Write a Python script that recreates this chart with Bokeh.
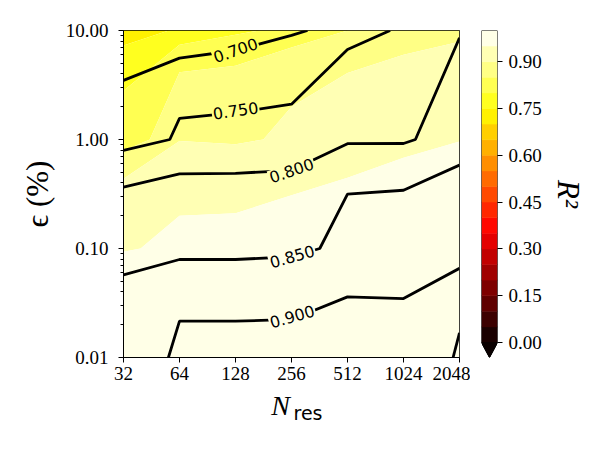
import numpy as np
from bokeh.plotting import figure
from bokeh.layouts import row, column
from bokeh.models import Range1d, FixedTicker, NumeralTickFormatter
from bokeh.core.properties import value
from bokeh.embed import file_html
from bokeh.resources import INLINE

# ---------------- data ----------------
n_res = [32, 64, 128, 256, 512, 1024, 2048]
eps_pct = [0.01, 0.1, 1.0, 10.0]

# filled field (R^2), one list per eps row
fill_eps_0_01 = [0.975, 0.978, 0.980, 0.982, 0.984, 0.986, 0.988]
fill_eps_0_1 = [0.948, 0.9565, 0.958, 0.962, 0.965, 0.968, 0.970]
fill_eps_1 = [0.820, 0.898, 0.893, 0.910, 0.926, 0.940, 0.949]
fill_eps_10 = [0.720, 0.760, 0.790, 0.820, 0.850, 0.868, 0.885]

# contour-line field, one list per eps row
line_eps_0_01 = [0.871, 0.910, 0.910, 0.910, 0.913, 0.911, 0.957]
line_eps_0_1 = [0.831, 0.832, 0.832, 0.837, 0.868, 0.871, 0.865]
line_eps_1 = [0.726, 0.757, 0.758, 0.758, 0.793, 0.793, 0.837]
line_eps_10 = [0.632, 0.645, 0.664, 0.693, 0.725, 0.761, 0.793]

fill_levels = [0.00, 0.05, 0.10, 0.15, 0.20, 0.25, 0.30, 0.35, 0.40, 0.45, 0.50,
               0.55, 0.60, 0.65, 0.70, 0.75, 0.80, 0.85, 0.90, 0.95, 1.00]
line_levels = [0.70, 0.75, 0.80, 0.85, 0.90, 0.95]
labelled_levels = [0.70, 0.75, 0.80, 0.85, 0.90]

cbar_ticks = [0.00, 0.15, 0.30, 0.45, 0.60, 0.75, 0.90]
x_ticks = [32, 64, 128, 256, 512, 1024, 2048]
y_ticks = [0.01, 0.1, 1.0, 10.0]

# ---------------- styling helpers ----------------
def hot(v):
    idx = min(int(v * 256), 255)
    v = idx / 255.0
    r = min(1.0, 0.0416 + v / 0.365079 * 0.9584)
    g = min(1.0, max(0.0, (v - 0.365079) / (0.746032 - 0.365079)))
    b = min(1.0, max(0.0, (v - 0.746032) / (1 - 0.746032)))
    return "#%02x%02x%02x" % (round(r * 255), round(g * 255), round(b * 255))

palette = [hot(0.5 * (a + b)) for a, b in zip(fill_levels[:-1], fill_levels[1:])]
under_color = hot(0.0)

TICK_FONT = "Liberation Serif"
TICK_SIZE = "19px"

F = np.array([fill_eps_0_01, fill_eps_0_1, fill_eps_1, fill_eps_10])
L = np.array([line_eps_0_01, line_eps_0_1, line_eps_1, line_eps_10])

TOP_H = 388

# ---------------- main figure ----------------
p = figure(width=470, height=TOP_H, x_axis_type="log", y_axis_type="log",
           x_range=Range1d(n_res[0], n_res[-1]), y_range=Range1d(eps_pct[0], eps_pct[-1]),
           min_border_left=123, min_border_right=11, min_border_top=30, min_border_bottom=31,
           output_backend="svg", toolbar_location=None)
p.grid.visible = False
p.outline_line_color = "black"
p.outline_line_width = 1
p.background_fill_color = "white"
p.border_fill_color = "white"

p.contour(n_res, eps_pct, F, levels=fill_levels, fill_color=palette)
p.contour(n_res, eps_pct, L, levels=line_levels, line_color="black", line_width=2.8)

# contour labels (inline, masking the line beneath)
lab_n = [128, 128, 256, 258, 258]
lab_eps = [6.6, 1.845, 0.52, 0.0845, 0.0238]
lab_angle = [19, 8, 19, 16, 16]
lab_band = [16, 17, 18, 19, 19]
lab_bg = [palette[i] for i in lab_band]
p.text(x=lab_n, y=lab_eps, text=["%.3f" % v for v in labelled_levels], angle=lab_angle,
       angle_units="deg", text_align="center", text_baseline="middle",
       text_font=value("DejaVu Sans"), text_font_size=value("16px"), text_color="black",
       background_fill_color=lab_bg, background_fill_alpha=1.0, padding=1)

for ax in (p.xaxis[0], p.yaxis[0]):
    ax.axis_line_color = "black"
    ax.major_tick_line_color = "black"
    ax.minor_tick_line_color = "black"
    ax.major_tick_out = 5
    ax.major_tick_in = 0
    ax.minor_tick_out = 3
    ax.minor_tick_in = 0
    ax.major_label_text_font = TICK_FONT
    ax.major_label_text_font_size = TICK_SIZE
    ax.major_label_text_color = "black"

p.xaxis.ticker = FixedTicker(ticks=x_ticks, minor_ticks=[])
p.xaxis.formatter = NumeralTickFormatter(format="0")
p.xaxis.major_label_standoff = 4

minor_y = [m * t for t in y_ticks[:-1] for m in range(2, 10)]
p.yaxis.ticker = FixedTicker(ticks=y_ticks, minor_ticks=minor_y)
p.yaxis.formatter = NumeralTickFormatter(format="0.00")
p.yaxis.major_label_standoff = 10
p.yaxis.axis_label = "\u03f5 (%)"
p.yaxis.axis_label_text_font = TICK_FONT
p.yaxis.axis_label_text_font_style = "normal"
p.yaxis.axis_label_text_font_size = "31px"
p.yaxis.axis_label_text_color = "black"
p.yaxis.axis_label_standoff = 8

# ---------------- colorbar figure ----------------
arrow = 0.048
cb = figure(width=130, height=TOP_H, x_range=Range1d(0, 1),
            y_range=Range1d(fill_levels[0] - arrow, fill_levels[-1]),
            min_border_left=11, min_border_right=103, min_border_top=29, min_border_bottom=31,
            y_axis_location="right", x_axis_location=None,
            output_backend="svg", toolbar_location=None)
cb.grid.visible = False
cb.outline_line_color = None
cb.border_fill_color = "white"
cb.quad(left=0, right=1, bottom=fill_levels[:-1], top=fill_levels[1:], fill_color=palette,
        line_color=palette, line_width=0.5)
lo, hi = fill_levels[0], fill_levels[-1]
cb.patch([0, 1, 0.5], [lo, lo, lo - arrow], fill_color=under_color, line_color=under_color)
cb.line([0, 0, 1, 1, 0.5, 0], [lo, hi, hi, lo, lo - arrow, lo], line_color="black", line_width=1)

ax = cb.yaxis[0]
ax.ticker = FixedTicker(ticks=cbar_ticks, minor_ticks=[])
ax.formatter = NumeralTickFormatter(format="0.00")
ax.axis_line_color = None
ax.major_tick_line_color = "black"
ax.major_tick_out = 5
ax.major_tick_in = 0
ax.major_label_text_font = TICK_FONT
ax.major_label_text_font_size = TICK_SIZE
ax.major_label_text_color = "black"
ax.major_label_standoff = 6
ax.axis_label = "R\u00b2"
ax.axis_label_text_font = TICK_FONT
ax.axis_label_text_font_style = "italic"
ax.axis_label_text_font_size = "31px"
ax.axis_label_text_color = "black"
ax.axis_label_standoff = 6

# ---------------- x-axis title strip (page pixel coordinates) ----------------
xl = figure(width=600, height=450 - TOP_H, x_range=Range1d(0, 600), y_range=Range1d(450, TOP_H),
            min_border=0, min_border_left=0, min_border_right=0, min_border_top=0,
            min_border_bottom=0, x_axis_location=None, y_axis_location=None,
            output_backend="svg", toolbar_location=None)
xl.grid.visible = False
xl.outline_line_color = None
xl.border_fill_color = "white"
xl.text(x=[280], y=[405], text=["N"], text_font=value(TICK_FONT), text_font_style="italic",
        text_font_size=value("28px"), text_align="center", text_baseline="middle",
        text_color="black")
xl.text(x=[293], y=[412], text=["res"], text_font=value("DejaVu Sans"),
        text_font_size=value("19px"), text_align="left", text_baseline="middle",
        text_color="black")

layout = column(row(p, cb), xl)
open("out.html", "w").write(file_html(layout, INLINE))
